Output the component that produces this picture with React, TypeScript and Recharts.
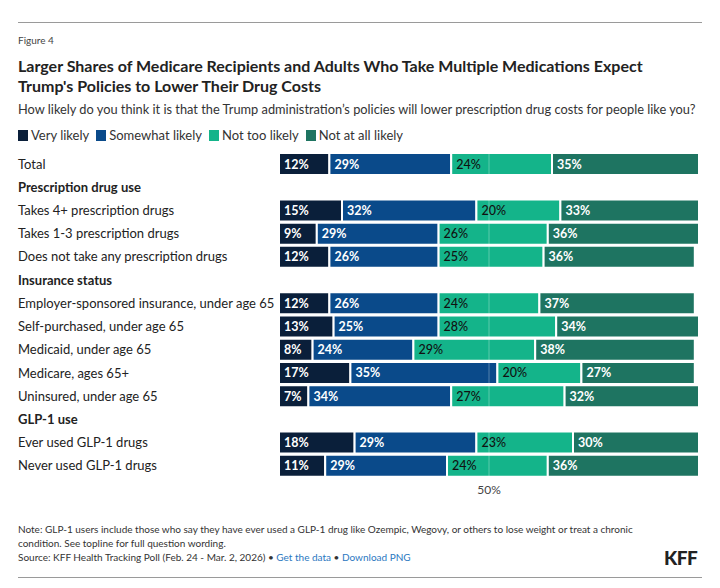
import React from 'react';
import { BarChart, Bar, XAxis, YAxis, LabelList, ReferenceLine } from 'recharts';

// Survey rows, in display order (group headers have no bars)
const rowLabels = [
  'Total',
  'Prescription drug use',
  'Takes 4+ prescription drugs',
  'Takes 1-3 prescription drugs',
  'Does not take any prescription drugs',
  'Insurance status',
  'Employer-sponsored insurance, under age 65',
  'Self-purchased, under age 65',
  'Medicaid, under age 65',
  'Medicare, ages 65+',
  'Uninsured, under age 65',
  'GLP-1 use',
  'Ever used GLP-1 drugs',
  'Never used GLP-1 drugs',
];
const headerRows = ['Prescription drug use', 'Insurance status', 'GLP-1 use'];

const veryLikely = [12, null, 15, 9, 12, null, 12, 13, 8, 17, 7, null, 18, 11];
const somewhatLikely = [29, null, 32, 29, 26, null, 26, 25, 24, 35, 34, null, 29, 29];
const notTooLikely = [24, null, 20, 26, 25, null, 24, 28, 29, 20, 27, null, 23, 24];
const notAtAllLikely = [35, null, 33, 36, 36, null, 37, 34, 38, 27, 32, null, 30, 36];

const xTicks = [50];

const series = [
  { key: 'veryLikely', name: 'Very likely', color: '#0a1f3a', text: '#ffffff' },
  { key: 'somewhatLikely', name: 'Somewhat likely', color: '#0a4a8a', text: '#ffffff' },
  { key: 'notTooLikely', name: 'Not too likely', color: '#14b48a', text: '#111111' },
  { key: 'notAtAllLikely', name: 'Not at all likely', color: '#1e7461', text: '#ffffff' },
];

const data = rowLabels.map((name, i) => ({
  name,
  veryLikely: veryLikely[i],
  somewhatLikely: somewhatLikely[i],
  notTooLikely: notTooLikely[i],
  notAtAllLikely: notAtAllLikely[i],
}));

const FONT = 'Lato, "Open Sans", sans-serif';

const RowTick = (props: any) => {
  const { y, payload } = props;
  const isHeader = headerRows.includes(payload.value);
  return (
    <text
      x={18}
      y={y}
      textAnchor="start"
      dominantBaseline="central"
      fontSize={13}
      fontFamily={FONT}
      fontWeight={isHeader ? 700 : 400}
      fill="#222"
    >
      {payload.value}
    </text>
  );
};

const makeLabel = (color: string, bold: boolean) => (props: any) => {
  const { x, y, width, height, value } = props;
  if (value == null || width <= 0) return null;
  return (
    <text
      x={x + 5}
      y={y + height / 2}
      dominantBaseline="central"
      fontSize={12.5}
      fontFamily={FONT}
      fontWeight={bold ? 700 : 500}
      fill={color}
    >
      {value}%
    </text>
  );
};

export default function App() {
  return (
    <div
      style={{
        position: 'absolute',
        left: 0,
        top: 0,
        width: 720,
        height: 588,
        background: '#fff',
        fontFamily: FONT,
        color: '#222',
        overflow: 'hidden',
      }}
    >
      <div style={{ position: 'absolute', left: 18, top: 22, width: 684, borderTop: '1px solid #9a9a9a' }} />
      <div style={{ position: 'absolute', left: 18, top: 34, fontSize: 10, color: '#444' }}>Figure 4</div>
      <div
        style={{
          position: 'absolute',
          left: 18,
          top: 56,
          width: 690,
          fontSize: 16,
          fontWeight: 700,
          lineHeight: '20px',
          color: '#222',
          whiteSpace: 'nowrap',
        }}
      >
        Larger Shares of Medicare Recipients and Adults Who Take Multiple Medications Expect
        <br />
        Trump's Policies to Lower Their Drug Costs
      </div>
      <div style={{ position: 'absolute', left: 18, top: 101, fontSize: 12.8, color: '#333', whiteSpace: 'nowrap' }}>
        How likely do you think it is that the Trump administration’s policies will lower prescription drug costs for
        people like you?
      </div>
      <div
        style={{
          position: 'absolute',
          left: 18,
          top: 127,
          display: 'flex',
          alignItems: 'center',
          fontSize: 13,
          color: '#333',
        }}
      >
        {series.map((s) => (
          <div key={s.key} style={{ display: 'flex', alignItems: 'center', marginRight: 7 }}>
            <span style={{ display: 'inline-block', width: 10, height: 11, background: s.color, marginRight: 3 }} />
            <span>{s.name}</span>
          </div>
        ))}
      </div>

      <div style={{ position: 'absolute', left: 0, top: 0 }}>
        <BarChart
          width={720}
          height={510}
          data={data}
          layout="vertical"
          margin={{ top: 152, right: 21, bottom: 8, left: 18 }}
          barSize={22}
        >
          <XAxis
            type="number"
            domain={[0, 100]}
            ticks={xTicks}
            tickFormatter={(v) => `${v}%`}
            axisLine={false}
            tickLine={false}
            height={25}
            tick={{ fontSize: 12, fill: '#444', fontFamily: FONT }}
          />
          <YAxis
            type="category"
            dataKey="name"
            width={261}
            interval={0}
            axisLine={false}
            tickLine={false}
            tick={<RowTick />}
          />
          {series.map((s) => (
            <Bar
              key={s.key}
              dataKey={s.key}
              name={s.name}
              stackId="a"
              fill={s.color}
              stroke="#ffffff"
              strokeWidth={2}
              isAnimationActive={false}
            >
              <LabelList dataKey={s.key} content={makeLabel(s.text, s.text === '#ffffff')} />
            </Bar>
          ))}
          <ReferenceLine x={50} stroke="rgba(255,255,255,0.3)" strokeWidth={1} />
        </BarChart>
      </div>

      <div style={{ position: 'absolute', left: 18, top: 522, width: 640, fontSize: 10, lineHeight: '14px', color: '#333' }}>
        Note: GLP-1 users include those who say they have ever used a GLP-1 drug like Ozempic, Wegovy, or others to lose
        weight or treat a chronic condition. See topline for full question wording.
      </div>
      <div style={{ position: 'absolute', left: 18, top: 551, fontSize: 10, color: '#333' }}>
        Source: KFF Health Tracking Poll (Feb. 24 - Mar. 2, 2026) •{' '}
        <span style={{ color: '#2a78bf' }}>Get the data</span> •{' '}
        <span style={{ color: '#2a78bf' }}>Download PNG</span>
      </div>
      <div
        style={{
          position: 'absolute',
          left: 664,
          top: 546,
          fontSize: 19,
          fontWeight: 900,
          color: '#222',
          letterSpacing: -0.5,
        }}
      >
        KFF
      </div>
      <div style={{ position: 'absolute', left: 18, top: 577, width: 684, borderTop: '1px solid #9a9a9a' }} />
    </div>
  );
}
